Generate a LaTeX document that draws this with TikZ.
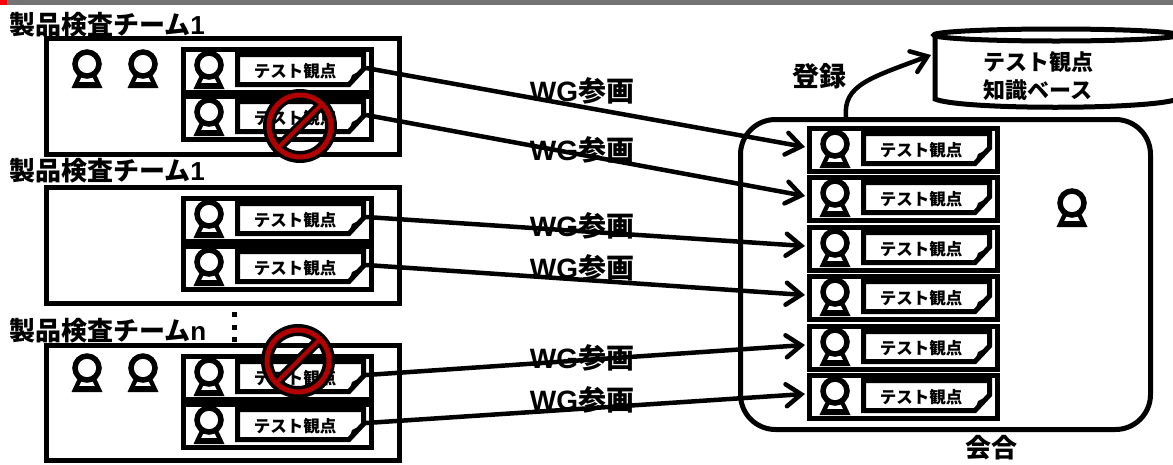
\documentclass[tikz,border=0pt]{standalone}
\usepackage{fontspec}
\setmainfont{Liberation Sans}
\newfontfamily\cjk{Noto Sans CJK JP}
\usetikzlibrary{arrows.meta}
\newcommand{\jp}[1]{{\cjk\bfseries #1}}
\tikzset{
teambox/.style={draw, line width=5pt, inner sep=0pt, outer sep=0pt},
heading/.style={font=\bfseries\fontsize{26}{26}\selectfont, inner sep=0pt, anchor=west},
wglabel/.style={font=\bfseries\fontsize{28}{28}\selectfont, inner sep=0pt},
link/.style={line width=4.5pt, -{Straight Barb[length=15pt, width=22pt, line cap=round]}},
person/.pic={
  \fill[even odd rule] (-15.5,24) -- (15.5,24) -- (8,8) -- (-8,8) -- cycle
    (-5,12) -- (5,12) -- (8,18) -- (-8,18) -- cycle;
  \draw[line width=5.5pt, fill=white] (0,0) circle [radius=12];
  },
card/.pic={
  \draw[line width=5pt, fill=white] (2.5,2.5) rectangle (190.5,45);
  \pic at (28,18) {person};
  \draw[line width=5pt] (56.5,7.5) -- (182.5,7.5) -- (182.5,22) -- (168,37.5) -- (56.5,37.5) -- cycle;
  \fill (185,21) -- (171,28) -- (167,40) -- cycle;
  \node[font=\fontsize{16.5}{16.5}\selectfont, inner sep=0pt] (label) at (114,24) {\jp{テスト観点}};
  \coordinate (tip) at (185,21);
  \coordinate (in) at (-2,21);
  },
banned/.pic={
  \draw[line width=12pt] (0,0) circle [radius=31];
  \draw[line width=10pt] (135:31) -- (-45:31);
  \draw[line width=5pt, red!70!black] (0,0) circle [radius=31];
  \draw[line width=4pt, red!70!black] (135:31) -- (-45:31);
  }
}
\begin{document}
\begin{tikzpicture}[x=1pt, y=-1pt]
  \useasboundingbox (0,0) rectangle (1173,464);
  \fill[gray!90!black] (0,0) rectangle (1173,5);
  \fill[red] (0,0) rectangle (7,5);
  % teams
  \node[teambox, minimum width=353pt, minimum height=116pt] (teamA) at (223,96.5) {};
  \node[teambox, minimum width=353pt, minimum height=116pt] (teamB) at (223,245) {};
  \node[teambox, minimum width=353pt, minimum height=115pt] (teamC) at (223,403) {};
  \node[heading] (headA) at (9,25) {\jp{製品検査チーム}1};
  \node[heading] (headB) at (9,171) {\jp{製品検査チーム}1};
  \node[heading] (headC) at (9,331) {\jp{製品検査チーム}n};
  \fill (231.5,312) rectangle (236.5,317);
  \fill (231.5,325) rectangle (236.5,330);
  \fill (231.5,337) rectangle (236.5,342);
  \pic at (87,64) {person};
  \pic at (143,64) {person};
  \pic at (87,368) {person};
  \pic at (143,368) {person};
  \pic (a1) at (181,47) {card};
  \pic (a2) at (181,94) {card};
  \pic (b1) at (181,196) {card};
  \pic (b2) at (181,244) {card};
  \pic (c1) at (181,354) {card};
  \pic (c2) at (181,402) {card};
  % meeting
  \node[draw, line width=5pt, rounded corners=35pt, minimum width=410pt, minimum height=310pt, inner sep=0pt, outer sep=0pt] (meeting) at (945.5,274.5) {};
  \pic (m1) at (807,126) {card};
  \pic (m2) at (807,175) {card};
  \pic (m3) at (807,225) {card};
  \pic (m4) at (807,274) {card};
  \pic (m5) at (807,324) {card};
  \pic (m6) at (807,373) {card};
  \pic at (1072,203) {person};
  \node[font=\fontsize{26}{26}\selectfont, inner sep=0pt] (meetname) at (991,448) {\jp{会合}};
  % knowledge base
  \draw[line width=5pt, fill=white] (935,35) -- (935,99) .. controls (960,110) and (1150,110) .. (1178,99) -- (1178,35);
  \draw[line width=5pt, fill=white] (1056,35) ellipse [x radius=122, y radius=6];
  \coordinate (basein) at (931,55);
  \node[font=\fontsize{22}{22}\selectfont, inner sep=0pt, anchor=west] (basetop) at (983,62) {\jp{テスト観点}};
  \node[font=\fontsize{22}{22}\selectfont, inner sep=0pt, anchor=west] (basebot) at (983,90) {\jp{知識ベース}};
  \coordinate (regout) at (846,117);
  \draw[link] (regout) .. controls (843,85) and (870,78) .. (basein);
  \node[font=\fontsize{27}{27}\selectfont, inner sep=0pt] (regname) at (819,76) {\jp{登録}};
  % links
  \draw[link] (a1tip) -- (m1in);
  \draw[link] (a2tip) -- (m2in);
  \draw[link] (b1tip) -- (m3in);
  \draw[link] (b2tip) -- (m4in);
  \draw[link] (c1tip) -- (m5in);
  \draw[link] (c2tip) -- (m6in);
  \node[wglabel] (wgA) at (582,91) {WG\jp{参画}};
  \node[wglabel] (wgB) at (582,150) {WG\jp{参画}};
  \node[wglabel] (wgC) at (582,226) {WG\jp{参画}};
  \node[wglabel] (wgD) at (582,268) {WG\jp{参画}};
  \node[wglabel] (wgE) at (582,358) {WG\jp{参画}};
  \node[wglabel] (wgF) at (582,400) {WG\jp{参画}};
  \pic at (300,126) {banned};
  \pic at (298,361) {banned};
\end{tikzpicture}
\end{document}
